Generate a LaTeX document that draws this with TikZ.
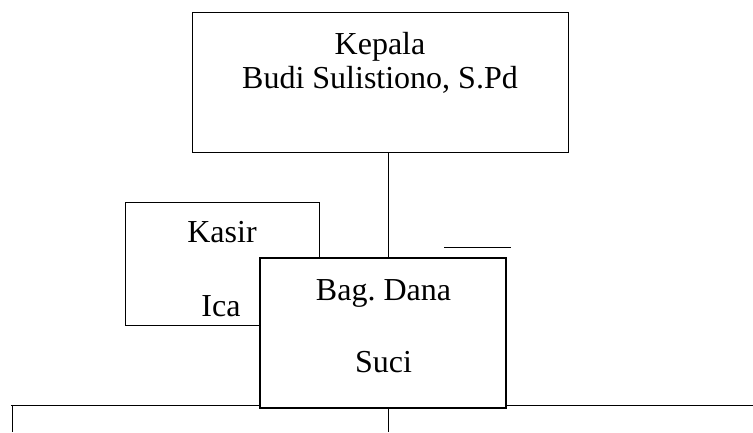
\documentclass[tikz,border=0pt]{standalone}
\usepackage{fontspec}
\setmainfont{Liberation Serif}
\frenchspacing
\begin{document}
\begin{tikzpicture}[x=1pt,y=-1pt,
  box/.style={draw=black,line width=0.9pt,rectangle,inner sep=0pt},
  thickbox/.style={draw=black,line width=1.8pt,fill=white,rectangle,inner sep=0pt},
  lbl/.style={anchor=base,inner sep=0pt,font=\fontsize{32}{35}\selectfont},
  conn/.style={draw=black,line width=0.9pt}]
\useasboundingbox (0,0) rectangle (753,432);
% boxes
\node[box,minimum width=376pt,minimum height=140pt] (kepala) at (380,82) {};
\node[box,minimum width=194pt,minimum height=123pt] (kasir) at (222,263.5) {};
% free-end coordinates
\coordinate (cx) at (388,0);
\coordinate (hl) at (11,405);
\coordinate (hr) at (753,405);
\coordinate (lb) at (12,432);
\coordinate (cb) at (388,432);
\coordinate (sl) at (444,247);
\coordinate (sr) at (511,247);
% lines behind the Bag. Dana box
\draw[conn] (hl) -- (hr);
\draw[conn] (hl -| lb) -- (lb);
\node[thickbox,minimum width=246pt,minimum height=150pt] (dana) at (383,333) {};
\draw[conn] (kepala.south -| cx) -- (dana.north -| cx);
\draw[conn] (dana.south -| cx) -- (cb);
\draw[conn] (sl) -- (sr);
% texts
\node[lbl] (t1) at (380,54) {Kepala};
\node[lbl] (t2) at (380,88) {Budi Sulistiono, S.Pd};
\node[lbl] (t3) at (222,242) {Kasir};
\node[lbl] (t4) at (221,316) {Ica};
\node[lbl] (t5) at (383.5,300) {Bag. Dana};
\node[lbl] (t6) at (383.5,372) {Suci};
\end{tikzpicture}
\end{document}
